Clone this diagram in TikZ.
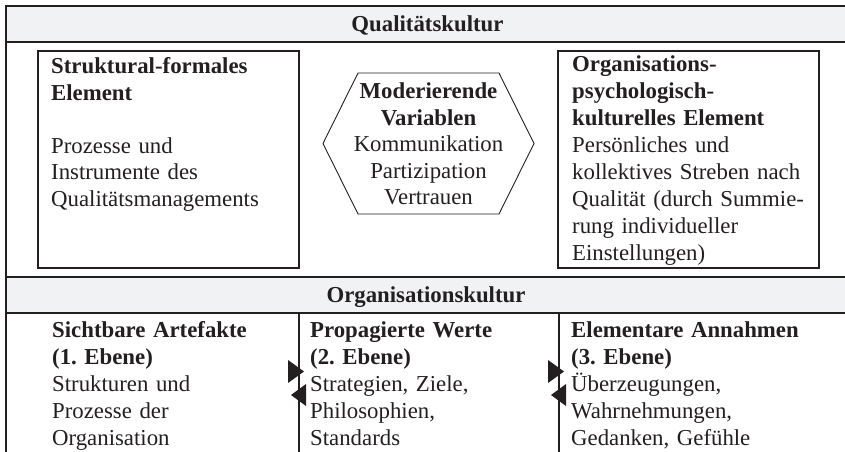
\documentclass[tikz,border=0pt]{standalone}
\usepackage{fontspec}
\setmainfont{Liberation Serif}
\frenchspacing
\definecolor{band}{RGB}{241,242,244}
\definecolor{ink}{RGB}{35,31,32}
\begin{document}
\begin{tikzpicture}[x=1pt,y=-1pt,
  every node/.style={text=ink},
  body/.style={inner sep=0pt, anchor=base west, align=left, font=\fontsize{22.8}{26.5}\selectfont\frenchspacing},
  bodywide/.style={body, font=\fontsize{22.8}{27}\selectfont\frenchspacing},
  bodylow/.style={body, font=\fontsize{22.8}{27}\selectfont\frenchspacing},
  title/.style={inner sep=0pt, anchor=base, font=\fontsize{22.8}{26.5}\selectfont\bfseries},
  frame/.style={draw=ink, line width=2pt},
  elbox/.style={draw=ink, line width=2pt, minimum width=261pt, minimum height=216.5pt, inner sep=0pt},
  hexline/.style={draw=ink, line width=0.9pt},
  arrowtri/.style={fill=ink}]
\useasboundingbox (0,0) rectangle (845,451);
% bands
\fill[band] (6,6) rectangle (845,42);
\fill[band] (6,277) rectangle (845,313);
% frame lines
\draw[frame] (846,6) -- (6,6) -- (6,452);
\draw[frame] (6,42) -- (846,42);
\draw[frame] (6,277) -- (846,277);
\draw[frame] (6,313) -- (846,313);
\draw[frame] (299,313) -- (299,452);
\draw[frame] (559,313) -- (559,452);
% titles
\node[title] (qk) at (427.5,31) {Qualitätskultur};
\node[title] (ok) at (426,302) {Organisationskultur};
% upper boxes
\node[elbox] (struct) at (168.5,159.25) {};
\node[elbox] (orgpsy) at (688.5,159.25) {};
\node[body, text width=240pt] (structtxt) at (51,73.5)
  {\textbf{Struktural-formales}\\\textbf{Element}\\[26.5pt]Prozesse und\\Instrumente des\\Qualitätsmanagements};
\node[bodywide, text width=240pt] (orgpsytxt) at (572,71.5)
  {\textbf{Organisations-}\\\textbf{psychologisch-}\\\textbf{kulturelles Element}\\Persönliches und\\\makebox[234pt][s]{kollektives Streben nach}\\\makebox[233pt][s]{Qualität (durch Summie-}\\rung individueller\\Einstellungen)};
% hexagon
\coordinate (h1) at (323,143.5);
\coordinate (h2) at (358,73);
\coordinate (h3) at (499,73);
\coordinate (h4) at (534,143.5);
\coordinate (h5) at (499,214);
\coordinate (h6) at (358,214);
\draw[hexline] (h1) -- (h2) -- (h3) -- (h4) -- (h5) -- (h6) -- cycle;
\node[body, anchor=base, align=center, text width=220pt] (modtxt) at (428.5,98.5)
  {\textbf{Moderierende}\\\textbf{Variablen}\\Kommunikation\\Partizipation\\Vertrauen};
% lower columns
\node[bodylow, text width=235pt] (lev1) at (52,337)
  {\textbf{Sichtbare Artefakte}\\\textbf{(1. Ebene)}\\Strukturen und\\Prozesse der\\Organisation};
\node[bodylow, text width=235pt] (lev2) at (310,337)
  {\textbf{Propagierte Werte}\\\textbf{(2. Ebene)}\\Strategien, Ziele,\\Philosophien,\\Standards};
\node[bodylow, text width=260pt] (lev3) at (571,337)
  {\textbf{Elementare Annahmen}\\\textbf{(3. Ebene)}\\Überzeugungen,\\Wahrnehmungen,\\Gedanken, Gefühle};
% arrowheads on the dividers
\fill[arrowtri] (288,360) -- (288,383) -- (304,371.5) -- cycle;
\fill[arrowtri] (306,384) -- (306,406) -- (291,395) -- cycle;
\fill[arrowtri] (548,360) -- (548,383) -- (564,371.5) -- cycle;
\fill[arrowtri] (566,384) -- (566,406) -- (551,395) -- cycle;
\end{tikzpicture}
\end{document}
